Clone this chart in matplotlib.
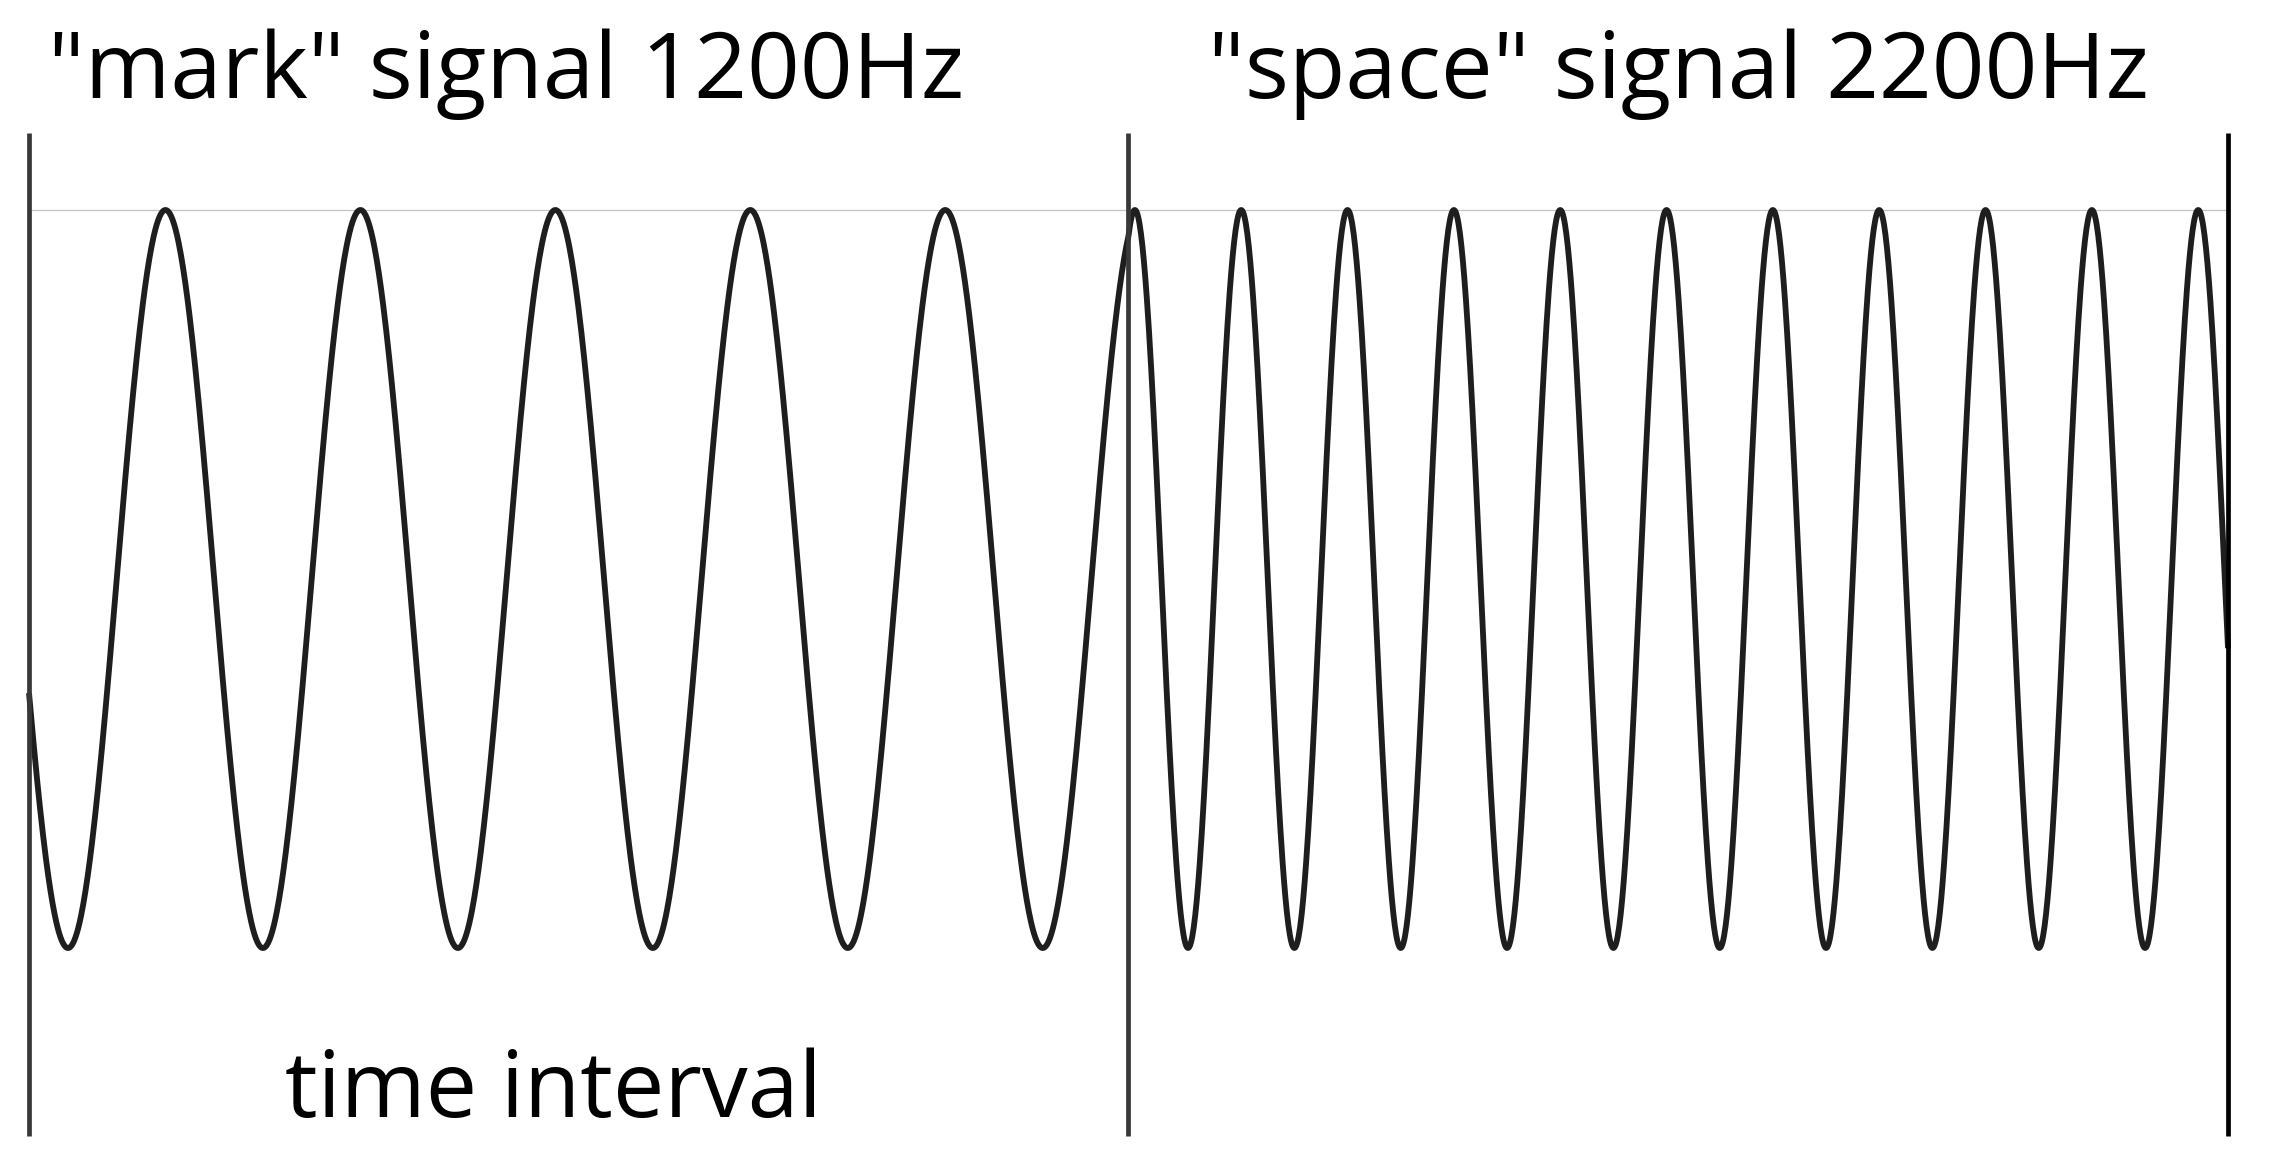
import numpy as np
import matplotlib
matplotlib.use("Agg")
import matplotlib.pyplot as plt

# FSK illustration: one time interval of "mark", one of "space"
freqs_hz = [1200, 2200]
labels = ['"mark" signal 1200Hz', '"space" signal 2200Hz']
interval_ms = 4.7          # length of each time interval
start_phase = 0.30         # phase of the mark tone at t=0, in cycles
bottom_label = "time interval"

W, H, DPI = 2269, 1168, 100
fig = plt.figure(figsize=(W / DPI, H / DPI), dpi=DPI)
ax = fig.add_axes([0, 0, 1, 1])

# pixel layout of the original drawing
x0_px, x1_px = 29, 2228
ytop_px, ybot_px = 210, 948
total = interval_ms * len(freqs_hz)
px_per_ms = (x1_px - x0_px) / total
px_per_amp = (ybot_px - ytop_px) / 2.0
ax.set_xlim(-x0_px / px_per_ms, total + (W - x1_px) / px_per_ms)
ax.set_ylim(-1 - (H - ybot_px) / px_per_amp, 1 + ytop_px / px_per_amp)
ax.axis("off")

# continuous-phase signal
phase = start_phase
for i, f in enumerate(freqs_hz):
    t = np.linspace(0, interval_ms, 1500)
    cyc = phase + f * t / 1000.0
    ax.plot(t + i * interval_ms, np.cos(2 * np.pi * cyc), color="#1e1e1e", lw=4.2,
            solid_capstyle="butt")
    phase = cyc[-1]

# thin reference line at the peak level
ax.plot([0, total], [1, 1], color="#c4c4c4", lw=0.9, zorder=0)

# interval boundaries
line_top = 1 + (ytop_px - 133) / px_per_amp
line_bot = -1 - (1136 - ybot_px) / px_per_amp
bounds = [i * interval_ms for i in range(len(freqs_hz) + 1)]
cols = ["#383838", "#383838", "black"]
for b, c in zip(bounds, cols):
    ax.plot([b, b], [line_bot, line_top], color=c, lw=3.4, solid_capstyle="butt")

font = "Open Sans"
fig.text(48 / W, 1 - 98 / H, labels[0], fontsize=66.5, family=font, va="baseline", ha="left")
fig.text(1208 / W, 1 - 98 / H, labels[1], fontsize=66.5, family=font, va="baseline", ha="left")
fig.text(285 / W, 1 - 1117 / H, bottom_label, fontsize=66, family=font, va="baseline", ha="left")

fig.savefig("out.png", dpi=DPI)
